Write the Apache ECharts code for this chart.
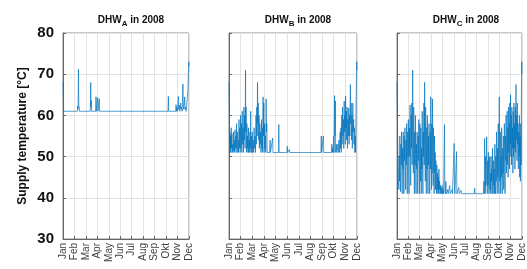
<!DOCTYPE html>
<html>
<head>
<meta charset="utf-8">
<script src="https://cdn.jsdelivr.net/npm/echarts@6/dist/echarts.min.js"></script>
<style>
  html, body { margin: 0; padding: 0; background: #fff; }
  #chart { width: 527px; height: 269px; }
</style>
</head>
<body>
<div id="chart"></div>
<script>
// month ticks (x = months after 1 Jan)
var months = ['Jan', 'Feb', 'Mar', 'Apr', 'May', 'Jun', 'Jul', 'Aug', 'Sep', 'Okt', 'Nov', 'Dec'];
var yTicks = [30, 40, 50, 60, 70, 80];
var letters = ['A', 'B', 'C'];

// DHW_A, baseline ~61 °C
var dhwA = [
  [0, 68], [0.03, 64.5], [0.06, 61], [1.26, 61], [1.29, 62.3], [1.32, 61.5], [1.35, 71.2], [1.38, 62.5], [1.41, 62], [1.44, 61],
  [2.38, 61], [2.42, 68], [2.44, 62], [2.47, 63.6], [2.5, 61], [2.85, 61], [2.88, 64.5], [2.91, 61], [3.0, 61], [3.03, 64.3], [3.06, 61],
  [3.14, 61], [3.17, 64], [3.2, 61],
  [9.17, 61], [9.2, 64.6], [9.23, 61],
  [9.84, 61], [9.87, 62.6], [9.9, 61], [9.95, 62], [10.0, 61], [10.04, 63], [10.07, 64.6], [10.1, 61.5], [10.15, 62.5], [10.2, 61],
  [10.27, 63], [10.3, 61.5], [10.36, 62], [10.4, 61], [10.47, 67.6], [10.5, 62], [10.54, 61.5], [10.59, 63], [10.62, 64.5], [10.65, 61.5],
  [10.7, 62], [10.75, 61], [10.86, 61], [10.9, 66], [10.95, 70.5], [10.98, 73], [11, 72]
];

// DHW_B, baseline ~51 °C
var dhwB = [
  [0, 68], [0.02, 64], [0.04, 57], [0.06, 52], [0.08, 56], [0.1, 51], [0.13, 55], [0.16, 51], [0.19, 57], [0.22, 52], [0.25, 55.5],
  [0.28, 51], [0.32, 53], [0.35, 51], [0.38, 56], [0.41, 51.5], [0.45, 54], [0.48, 51], [0.52, 56.5], [0.55, 52], [0.58, 55], [0.61, 51],
  [0.65, 58], [0.68, 52], [0.72, 56], [0.75, 51], [0.79, 54], [0.82, 51], [0.86, 59], [0.89, 52], [0.93, 57], [0.96, 51],
  [1.0, 60], [1.03, 52], [1.07, 58], [1.1, 51], [1.14, 61], [1.17, 53], [1.21, 57], [1.24, 51], [1.28, 62], [1.31, 54], [1.35, 60],
  [1.38, 52], [1.42, 71], [1.44, 56], [1.47, 62], [1.5, 51], [1.54, 58], [1.57, 52], [1.6, 55], [1.63, 51], [1.67, 57], [1.7, 51],
  [1.74, 54], [1.77, 51], [1.8, 56], [1.83, 52], [1.86, 61], [1.89, 51], [1.93, 55], [1.96, 51],
  [2.0, 56], [2.04, 51], [2.08, 54], [2.12, 51], [2.16, 57], [2.2, 52], [2.24, 55], [2.28, 51], [2.32, 60], [2.35, 53], [2.39, 62],
  [2.42, 55], [2.45, 68], [2.48, 58], [2.51, 63], [2.54, 54], [2.58, 60], [2.61, 52], [2.65, 58], [2.68, 53], [2.72, 56], [2.75, 51],
  [2.79, 59], [2.82, 52], [2.86, 57], [2.89, 51], [2.93, 64.5], [2.96, 55], [2.99, 63], [3.02, 51], [3.06, 58], [3.09, 52], [3.13, 55],
  [3.16, 51], [3.19, 64], [3.22, 56], [3.25, 58], [3.28, 51],
  [3.5, 51], [3.53, 54], [3.56, 51], [3.72, 51], [3.75, 54.5], [3.78, 51],
  [4.25, 51], [4.28, 57.8], [4.31, 51],
  [4.98, 51], [5.01, 52.5], [5.04, 51], [5.15, 51], [5.18, 51.7], [5.21, 51],
  [7.9, 51], [7.93, 55], [7.96, 51], [8.08, 51], [8.11, 55], [8.14, 51],
  [8.8, 51], [8.84, 53], [8.87, 51], [8.9, 52], [8.95, 51], [9.0, 55], [9.03, 51], [9.07, 64.8], [9.1, 55], [9.14, 63.5], [9.17, 51],
  [9.22, 53], [9.26, 51],
  [9.3, 51], [9.35, 53], [9.4, 51], [9.45, 54], [9.5, 51], [9.55, 56], [9.58, 52], [9.62, 57], [9.65, 51], [9.69, 60], [9.72, 53],
  [9.76, 62], [9.79, 55], [9.83, 59], [9.86, 52], [9.9, 63.5], [9.93, 56], [9.96, 60], [9.99, 53], [10.02, 64.7], [10.05, 57],
  [10.08, 61], [10.11, 54], [10.15, 62], [10.18, 52], [10.22, 59], [10.25, 55], [10.29, 61.8], [10.32, 53], [10.36, 60], [10.39, 55],
  [10.43, 67.5], [10.46, 58], [10.5, 63], [10.53, 54], [10.57, 60], [10.6, 52], [10.64, 63], [10.67, 56], [10.71, 59], [10.74, 53],
  [10.78, 57], [10.81, 51], [10.85, 55], [10.88, 51], [10.92, 62], [10.95, 68], [10.98, 73], [11, 71]
];

// DHW_C, baseline ~41 °C
var dhwC = [
  [0, 68], [0.02, 63], [0.04, 58], [0.07, 52], [0.1, 47], [0.13, 44], [0.16, 42], [0.19, 50], [0.22, 44], [0.25, 55], [0.28, 46],
  [0.31, 41.5], [0.34, 53], [0.37, 48], [0.4, 56], [0.43, 45], [0.46, 41], [0.49, 52], [0.52, 47], [0.55, 56], [0.58, 44], [0.61, 41],
  [0.64, 55], [0.67, 49], [0.7, 57], [0.73, 46], [0.76, 42], [0.79, 54], [0.82, 48], [0.85, 58], [0.88, 43], [0.91, 41], [0.94, 56],
  [0.97, 50],
  [1.0, 59], [1.03, 45], [1.06, 41], [1.09, 57], [1.12, 50], [1.15, 62.5], [1.18, 47], [1.21, 43], [1.24, 60], [1.27, 52], [1.3, 63],
  [1.33, 48], [1.36, 58], [1.38, 71], [1.41, 55], [1.44, 46], [1.47, 62], [1.5, 50], [1.53, 41], [1.56, 56], [1.59, 48], [1.62, 60],
  [1.65, 44], [1.68, 41], [1.71, 53], [1.74, 47], [1.77, 56], [1.8, 43], [1.83, 41], [1.86, 55], [1.89, 49], [1.92, 59], [1.95, 45],
  [1.98, 41],
  [2.01, 58], [2.04, 50], [2.07, 44], [2.1, 57], [2.13, 41], [2.16, 52], [2.19, 47], [2.22, 61], [2.25, 45], [2.28, 41], [2.31, 56],
  [2.34, 50], [2.37, 63], [2.4, 48], [2.43, 68], [2.46, 56], [2.49, 44], [2.52, 62], [2.55, 50], [2.58, 41], [2.61, 57], [2.64, 47],
  [2.67, 60], [2.7, 45], [2.73, 41], [2.76, 55], [2.79, 48], [2.82, 58], [2.85, 43], [2.88, 41], [2.91, 56], [2.94, 47], [2.97, 64.5],
  [3.0, 50], [3.03, 42], [3.06, 58], [3.09, 46], [3.12, 64], [3.15, 52], [3.18, 43], [3.21, 57], [3.24, 48], [3.27, 41], [3.3, 55],
  [3.33, 46], [3.36, 51], [3.39, 42], [3.42, 49], [3.45, 44], [3.48, 41], [3.51, 48], [3.54, 42], [3.57, 46], [3.6, 41], [3.63, 45],
  [3.66, 41], [3.69, 47], [3.72, 42], [3.75, 44], [3.78, 41], [3.82, 43], [3.86, 41], [3.9, 42.5], [3.94, 41],
  [3.98, 43], [4.02, 41], [4.06, 42], [4.1, 41], [4.15, 41], [4.18, 57.8], [4.21, 42], [4.25, 41], [4.3, 44], [4.34, 41], [4.4, 41],
  [4.45, 42], [4.5, 41], [4.6, 41], [4.64, 43], [4.68, 41], [4.8, 41], [4.84, 42], [4.88, 41],
  [5.0, 41], [5.03, 53.2], [5.06, 42], [5.1, 41], [5.2, 41], [5.24, 51.2], [5.27, 41], [5.4, 41], [5.44, 42.5], [5.48, 41], [5.6, 41],
  [5.64, 41.8], [5.68, 41],
  [6.8, 41], [6.83, 42.3], [6.86, 41], [7.6, 41],
  [7.65, 44], [7.68, 41], [7.71, 54.4], [7.74, 46], [7.77, 41], [7.8, 50], [7.83, 43], [7.86, 48], [7.89, 54.8], [7.92, 44], [7.95, 41],
  [7.98, 49], [8.01, 43], [8.04, 51], [8.07, 45], [8.1, 41], [8.13, 48], [8.16, 50], [8.19, 42], [8.22, 46], [8.25, 41], [8.28, 50],
  [8.31, 44], [8.34, 47], [8.37, 41], [8.4, 52], [8.43, 45], [8.46, 41], [8.49, 49], [8.52, 43], [8.55, 47], [8.58, 41], [8.61, 53],
  [8.64, 46], [8.67, 41], [8.7, 50], [8.73, 44], [8.76, 56], [8.79, 47], [8.82, 41], [8.85, 52], [8.88, 45], [8.91, 58], [8.94, 44],
  [8.97, 41], [9.0, 64.5], [9.03, 52], [9.06, 44], [9.09, 56], [9.12, 41], [9.15, 50], [9.18, 45], [9.21, 57], [9.24, 43], [9.27, 41],
  [9.3, 52], [9.33, 46], [9.36, 55], [9.39, 42], [9.42, 48], [9.45, 58], [9.48, 47], [9.51, 41], [9.54, 55], [9.57, 49], [9.6, 60],
  [9.63, 46], [9.66, 52], [9.69, 61], [9.72, 48], [9.75, 57], [9.78, 45], [9.81, 62], [9.84, 51], [9.87, 58], [9.9, 47], [9.93, 63],
  [9.96, 53], [9.99, 65], [10.02, 50], [10.05, 60], [10.08, 48], [10.11, 62], [10.14, 52], [10.17, 57], [10.2, 46], [10.23, 61],
  [10.26, 50], [10.29, 63], [10.32, 52], [10.35, 58], [10.38, 47], [10.41, 62], [10.44, 51], [10.47, 67.5], [10.5, 54], [10.53, 60],
  [10.56, 49], [10.59, 63], [10.62, 53], [10.65, 58], [10.68, 47], [10.71, 56], [10.74, 50], [10.77, 60], [10.8, 45], [10.83, 55],
  [10.86, 44], [10.89, 58], [10.92, 48], [10.95, 66], [10.98, 73], [11, 70]
];

var seriesData = [dhwA, dhwB, dhwC];
var gridLefts = [63, 229, 397];
var gridWidths = [126, 128, 128];
var font = 'Liberation Sans, Arial, sans-serif';

var myChart = echarts.init(document.getElementById('chart'), null, { renderer: 'canvas' });

var grids = [], xAxes = [], yAxes = [], series = [], titles = [];
for (var i = 0; i < 3; i++) {
  grids.push({
    left: gridLefts[i], top: 33, width: gridWidths[i], height: 206,
    show: true, borderColor: '#8c8c8c', borderWidth: 1, backgroundColor: '#fff'
  });
  titles.push({
    text: '{t|DHW}{s|' + letters[i] + '}{t| in 2008}',
    left: gridLefts[i] + gridWidths[i] / 2,
    textAlign: 'center',
    top: 7,
    textStyle: {
      rich: {
        t: { fontSize: 10, fontWeight: 'bold', fontFamily: font, color: '#111' },
        s: { fontSize: 8, fontWeight: 'bold', fontFamily: font, color: '#111', padding: [8, 0, 0, 0] }
      }
    }
  });
  xAxes.push({
    type: 'value', gridIndex: i, min: 0, max: 11, interval: 1,
    axisLine: { show: true, lineStyle: { color: '#666', width: 1 } },
    axisTick: { show: true, inside: true, length: 3, lineStyle: { color: '#666' } },
    splitLine: { show: true, lineStyle: { color: '#e3e3e3', width: 1 } },
    axisLabel: {
      rotate: 90, fontSize: 10, color: '#404040', fontFamily: font, margin: 4,
      showMinLabel: true, showMaxLabel: true,
      formatter: function (v) { return months[Math.round(v)] || ''; }
    }
  });
  yAxes.push({
    type: 'value', gridIndex: i, min: yTicks[0], max: yTicks[yTicks.length - 1], interval: 10,
    name: i === 0 ? 'Supply temperature [°C]' : '',
    nameLocation: 'middle', nameRotate: 90, nameGap: 34,
    nameTextStyle: { fontSize: 12, fontWeight: 'bold', fontFamily: font, color: '#111' },
    axisLine: { show: true, lineStyle: { color: '#666', width: 1 } },
    axisTick: { show: true, inside: true, length: 3, lineStyle: { color: '#666' } },
    splitLine: { show: true, lineStyle: { color: '#e3e3e3', width: 1 } },
    axisLabel: {
      show: i === 0, fontSize: 15, fontWeight: 'bold', color: '#111', fontFamily: font, margin: 9
    }
  });
  series.push({
    type: 'line', xAxisIndex: i, yAxisIndex: i,
    data: seriesData[i], showSymbol: false, symbol: 'none',
    lineStyle: { color: '#0072BD', width: 0.8, opacity: 0.85 },
    animation: false
  });
}

var option = {
  animation: false,
  title: titles,
  grid: grids,
  xAxis: xAxes,
  yAxis: yAxes,
  series: series
};

myChart.setOption(option);
</script>
</body>
</html>
